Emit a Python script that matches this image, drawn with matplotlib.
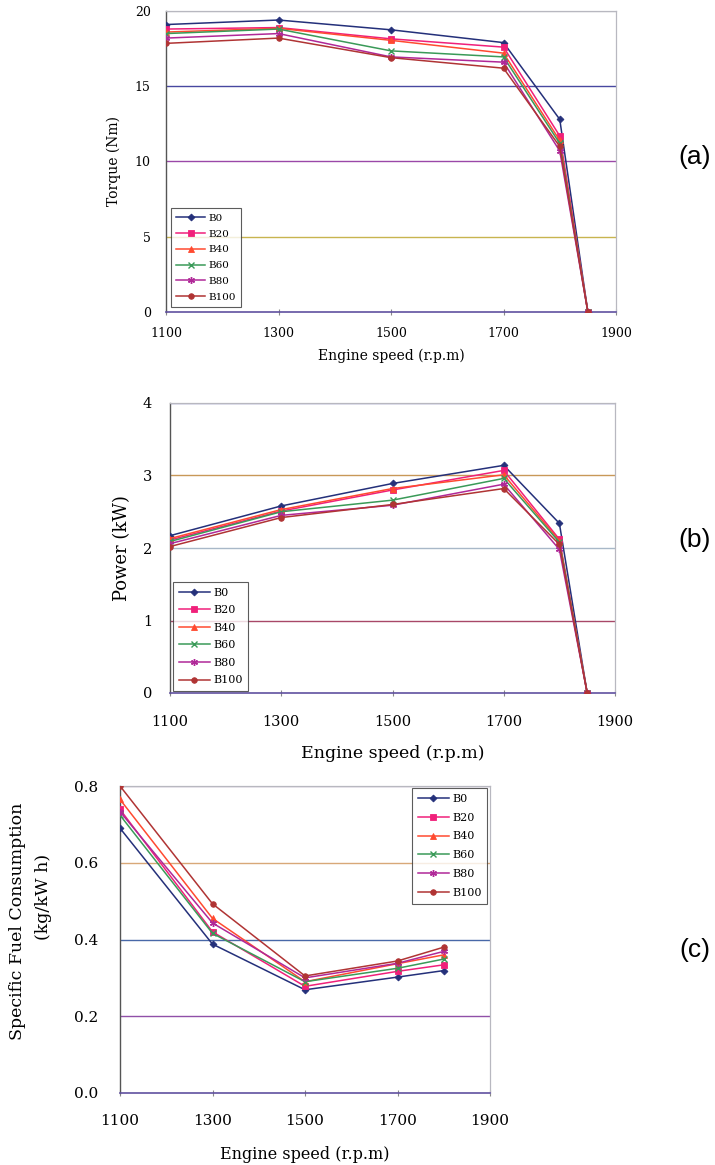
import numpy as np
import matplotlib.pyplot as plt

plt.rcParams['font.family'] = ['DejaVu Serif']

blends = ['B0', 'B20', 'B40', 'B60', 'B80', 'B100']

# torque (Nm) and power (kW), the engine stalls at 1850 rpm
speed_tp = [1100, 1300, 1500, 1700, 1800, 1850]
torque = {
    'B0':   [19.1, 19.4, 18.75, 17.9, 12.8, 0],
    'B20':  [18.8, 18.9, 18.15, 17.6, 11.7, 0],
    'B40':  [18.6, 18.85, 18.05, 17.2, 11.4, 0],
    'B60':  [18.5, 18.8, 17.35, 16.95, 11.2, 0],
    'B80':  [18.2, 18.5, 16.95, 16.6, 10.7, 0],
    'B100': [17.85, 18.2, 16.9, 16.2, 11.0, 0],
}
power = {
    'B0':   [2.17, 2.58, 2.89, 3.14, 2.34, 0],
    'B20':  [2.11, 2.51, 2.80, 3.07, 2.12, 0],
    'B40':  [2.13, 2.53, 2.82, 3.01, 2.10, 0],
    'B60':  [2.09, 2.50, 2.66, 2.96, 2.08, 0],
    'B80':  [2.06, 2.45, 2.59, 2.88, 1.98, 0],
    'B100': [2.02, 2.42, 2.60, 2.82, 2.05, 0],
}

# specific fuel consumption (kg/kWh)
speed_sfc = [1100, 1300, 1500, 1700, 1800]
sfc = {
    'B0':   [0.690, 0.388, 0.269, 0.302, 0.319],
    'B20':  [0.739, 0.420, 0.278, 0.317, 0.334],
    'B40':  [0.765, 0.455, 0.290, 0.337, 0.360],
    'B60':  [0.724, 0.416, 0.290, 0.325, 0.349],
    'B80':  [0.733, 0.443, 0.300, 0.338, 0.369],
    'B100': [0.800, 0.493, 0.305, 0.344, 0.380],
}

styles = {
    'B0':   dict(color='#24307a', marker='D', ms=3.5),
    'B20':  dict(color='#f0207a', marker='s', ms=4),
    'B40':  dict(color='#ff4a30', marker='^', ms=4.5),
    'B60':  dict(color='#3a9a58', marker='x', ms=4.5, mew=1.0),
    'B80':  dict(color='#b02898', marker=(6, 2, 0), ms=5, mew=1.0),
    'B100': dict(color='#b03434', marker='o', ms=4),
}

W, H = 715, 1165
fig = plt.figure(figsize=(W / 100, H / 100), dpi=100)


def px_axes(left, top, right, bottom):
    return fig.add_axes([left / W, 1 - bottom / H, (right - left) / W, (bottom - top) / H])


def style_axes(ax, yticks, grid_colors, tick_fs, xpad, ypad, xlabel_fs, xlabel_pad):
    ax.set_xlim(1100, 1900)
    ax.set_xticks([1100, 1300, 1500, 1700, 1900])
    ax.set_yticks(yticks)
    ax.set_ylim(yticks[0], yticks[-1])
    for y, c in zip(yticks[1:], grid_colors):
        ax.axhline(y, color=c, lw=1.0, zorder=0)
    for s in ['top', 'right']:
        ax.spines[s].set_color('#b8b8c0')
        ax.spines[s].set_linewidth(0.9)
    ax.spines['left'].set_color('#555555')
    ax.spines['bottom'].set_color('#6050a0')
    ax.spines['left'].set_linewidth(1.0)
    ax.spines['bottom'].set_linewidth(1.2)
    ax.tick_params(axis='x', direction='inout', length=4, color='#888888',
                   labelsize=tick_fs, pad=xpad)
    ax.tick_params(axis='y', length=0, labelsize=tick_fs, pad=ypad)
    ax.set_xlabel('Engine speed (r.p.m)', fontsize=xlabel_fs, labelpad=xlabel_pad)


def draw_series(ax, x, data):
    for name in blends:
        st = styles[name]
        ax.plot(x, data[name], color=st['color'], lw=1.1, marker=st['marker'],
                ms=st['ms'], mew=st.get('mew', 0.6), label=name, zorder=3)


def add_legend(ax, fs, spacing, **kw):
    leg = ax.legend(fontsize=fs, frameon=True, fancybox=False, edgecolor='#333333',
                    handlelength=2.8, handletextpad=0.3, labelspacing=spacing,
                    borderpad=0.5, borderaxespad=0.0, **kw)
    leg.get_frame().set_linewidth(0.8)


# (a) torque
ax_a = px_axes(166, 11, 616, 312)
style_axes(ax_a, [0, 5, 10, 15, 20],
           ['#c8b450', '#9a48a8', '#4848a0', '#c8c8d0'], 9, 9, 11, 10, 6)
draw_series(ax_a, speed_tp, torque)
ax_a.set_ylabel('Torque (Nm)', fontsize=10, labelpad=10)
add_legend(ax_a, 7.5, 0.62, loc='lower left', bbox_to_anchor=(0.011, 0.017))

# (b) power
ax_b = px_axes(170, 403, 615, 693)
style_axes(ax_b, [0, 1, 2, 3, 4],
           ['#a84868', '#a8b8c8', '#c89858', '#7070b0'], 10.5, 14, 13, 12.5, 11)
draw_series(ax_b, speed_tp, power)
ax_b.set_ylabel('Power (kW)', fontsize=13, labelpad=8)
add_legend(ax_b, 8, 0.68, loc='lower left', bbox_to_anchor=(0.007, 0.007))

# (c) specific fuel consumption
ax_c = px_axes(120, 786, 490, 1093)
style_axes(ax_c, [0.0, 0.2, 0.4, 0.6, 0.8],
           ['#9050a8', '#4868a8', '#d8a878', '#a090b0'], 11, 13, 16, 11.5, 13)
ax_c.set_yticklabels(['0.0', '0.2', '0.4', '0.6', '0.8'])
draw_series(ax_c, speed_sfc, sfc)
fig.text(18 / W, 1 - 921 / H, 'Specific Fuel Consumption', rotation=90,
         ha='center', va='center', fontsize=12.5)
fig.text(43 / W, 1 - 897 / H, '(kg/kW h)', rotation=90,
         ha='center', va='center', fontsize=12.5)
add_legend(ax_c, 8, 0.8, loc='upper right', bbox_to_anchor=(0.992, 0.993))

# panel tags
for tag, y in [('(a)', 157), ('(b)', 540), ('(c)', 950)]:
    fig.text(695 / W, 1 - y / H, tag, ha='center', va='center', fontsize=19,
             family=['Liberation Sans', 'DejaVu Sans'])

fig.savefig('out.png', dpi=100, facecolor='white')
